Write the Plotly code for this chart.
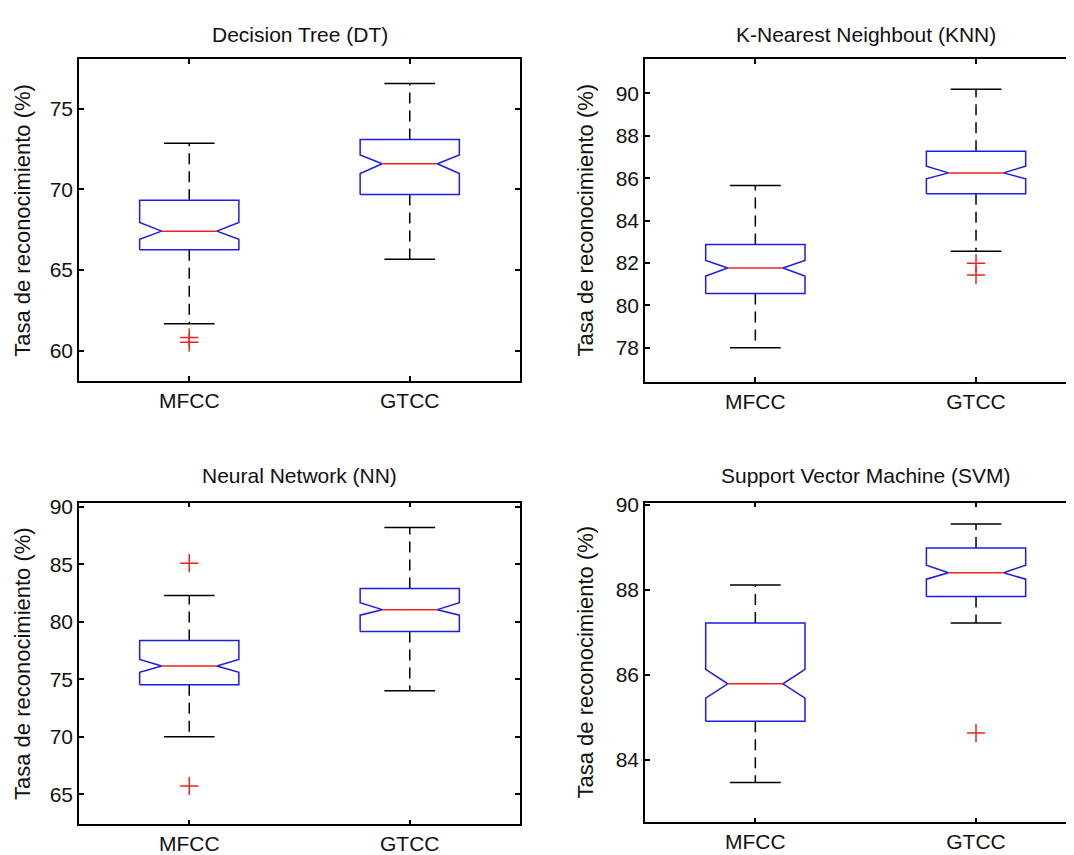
import plotly.graph_objects as go

# ---------------- data ----------------
categories = ["MFCC", "GTCC"]
titles = ["Decision Tree (DT)", "K-Nearest Neighbout (KNN)",
          "Neural Network (NN)", "Support Vector Machine (SVM)"]
y_label = "Tasa de reconocimiento (%)"

# Decision Tree
dt_lower = [61.67, 65.67]
dt_q1 = [66.26, 69.69]
dt_notch_lo = [66.90, 70.98]
dt_median = [67.41, 71.59]
dt_notch_hi = [67.95, 72.14]
dt_q3 = [69.33, 73.10]
dt_upper = [72.86, 76.57]
dt_outliers = [[60.81, 60.51], []]

# K-Nearest Neighbour
knn_lower = [78.00, 82.55]
knn_q1 = [80.56, 85.27]
knn_notch_lo = [81.38, 85.97]
knn_median = [81.76, 86.25]
knn_notch_hi = [82.12, 86.57]
knn_q3 = [82.87, 87.27]
knn_upper = [85.66, 90.20]
knn_outliers = [[], [81.99, 81.43]]

# Neural Network
nn_lower = [70.00, 74.00]
nn_q1 = [74.51, 79.14]
nn_notch_lo = [75.60, 80.57]
nn_median = [76.14, 81.05]
nn_notch_hi = [76.71, 81.65]
nn_q3 = [78.37, 82.90]
nn_upper = [82.29, 88.20]
nn_outliers = [[85.09, 65.71], []]

# Support Vector Machine
svm_lower = [83.47, 87.22]
svm_q1 = [84.91, 87.84]
svm_notch_lo = [85.45, 88.25]
svm_median = [85.79, 88.40]
svm_notch_hi = [86.13, 88.58]
svm_q3 = [87.22, 88.98]
svm_upper = [88.11, 89.55]
svm_outliers = [[], [84.63]]

dt_ticks = [60, 65, 70, 75]
knn_ticks = [78, 80, 82, 84, 86, 88, 90]
nn_ticks = [65, 70, 75, 80, 85, 90]
svm_ticks = [84, 86, 88, 90]

# ---------------- styling ----------------
PAGE_W, PAGE_H = 1074, 855
OFF = 8                      # default body margin of the html page
W, H = PAGE_W - OFF, PAGE_H - OFF
FONT = "Liberation Sans, Arial, Helvetica, sans-serif"
BOX_BLUE = "#1c1ce6"
MED_RED = "#ee2222"
BLACK = "#000000"
BOX_HALF = 0.225      # half box width (x units)
NOTCH_HALF = 0.125    # half width at the notch waist
CAP_HALF = 0.115      # half whisker-cap width


def fx(px):
    return (px - OFF) / W


def fy(py):
    return 1 - (py - OFF) / H


panels = [
    dict(lower=dt_lower, q1=dt_q1, nlo=dt_notch_lo, med=dt_median, nhi=dt_notch_hi,
         q3=dt_q3, upper=dt_upper, out=dt_outliers, yr=[58.1, 78.06], ticks=dt_ticks,
         px=(79, 520), py=(50, 376), xr=[0.5, 2.5], mirror_y=True),
    dict(lower=knn_lower, q1=knn_q1, nlo=knn_notch_lo, med=knn_median, nhi=knn_notch_hi,
         q3=knn_q3, upper=knn_upper, out=knn_outliers, yr=[76.4, 91.6], ticks=knn_ticks,
         px=(645, 1074), py=(50, 376.5), xr=[0.5, 2.444], mirror_y=False),
    dict(lower=nn_lower, q1=nn_q1, nlo=nn_notch_lo, med=nn_median, nhi=nn_notch_hi,
         q3=nn_q3, upper=nn_upper, out=nn_outliers, yr=[62.37, 90.36], ticks=nn_ticks,
         px=(79, 520), py=(499, 825), xr=[0.5, 2.5], mirror_y=True),
    dict(lower=svm_lower, q1=svm_q1, nlo=svm_notch_lo, med=svm_median, nhi=svm_notch_hi,
         q3=svm_q3, upper=svm_upper, out=svm_outliers, yr=[82.53, 90.05], ticks=svm_ticks,
         px=(645, 1074), py=(499, 823), xr=[0.5, 2.444], mirror_y=False),
]
title_centers = [(299.5, 25), (865.5, 25), (299.5, 472), (865.5, 472)]
ylabel_x = [22.5, 586, 22.5, 586]

fig = go.Figure()
annotations = []

for i, p in enumerate(panels):
    n = "" if i == 0 else str(i + 1)
    xa, ya = "x" + n, "y" + n
    box_x, box_y = [], []
    med_x, med_y = [], []
    wh_x, wh_y = [], []
    cap_x, cap_y = [], []
    out_x, out_y = [], []
    for j, cat in enumerate(categories):
        c = j + 1
        q1, q3 = p["q1"][j], p["q3"][j]
        nlo, nhi, md = p["nlo"][j], p["nhi"][j], p["med"][j]
        box_x += [c - BOX_HALF, c - BOX_HALF, c - NOTCH_HALF, c - BOX_HALF, c - BOX_HALF,
                  c + BOX_HALF, c + BOX_HALF, c + NOTCH_HALF, c + BOX_HALF, c + BOX_HALF,
                  c - BOX_HALF, None]
        box_y += [q1, nlo, md, nhi, q3, q3, nhi, md, nlo, q1, q1, None]
        med_x += [c - NOTCH_HALF, c + NOTCH_HALF, None]
        med_y += [md, md, None]
        wh_x += [c, c, None, c, c, None]
        wh_y += [q3, p["upper"][j], None, q1, p["lower"][j], None]
        cap_x += [c - CAP_HALF, c + CAP_HALF, None, c - CAP_HALF, c + CAP_HALF, None]
        cap_y += [p["upper"][j], p["upper"][j], None, p["lower"][j], p["lower"][j], None]
        for v in p["out"][j]:
            out_x.append(c)
            out_y.append(v)

    fig.add_trace(go.Scatter(x=wh_x, y=wh_y, mode="lines", xaxis=xa, yaxis=ya,
                             line=dict(color=BLACK, width=1.5, dash="11px,7px"),
                             showlegend=False, hoverinfo="skip"))
    fig.add_trace(go.Scatter(x=cap_x, y=cap_y, mode="lines", xaxis=xa, yaxis=ya,
                             line=dict(color=BLACK, width=1.5),
                             showlegend=False, hoverinfo="skip"))
    fig.add_trace(go.Scatter(x=box_x, y=box_y, mode="lines", xaxis=xa, yaxis=ya,
                             line=dict(color=BOX_BLUE, width=1.5),
                             showlegend=False, hoverinfo="skip"))
    fig.add_trace(go.Scatter(x=med_x, y=med_y, mode="lines", xaxis=xa, yaxis=ya,
                             line=dict(color=MED_RED, width=1.5),
                             showlegend=False, hoverinfo="skip"))
    if out_x:
        fig.add_trace(go.Scatter(x=out_x, y=out_y, mode="markers", xaxis=xa, yaxis=ya,
                                 marker=dict(symbol="cross-thin", size=13,
                                             line=dict(color=MED_RED, width=1.5)),
                                 showlegend=False, hoverinfo="skip"))

    x0, x1 = p["px"]
    y0, y1 = p["py"]
    axis_common = dict(showgrid=False, zeroline=False, showline=True,
                       linecolor=BLACK, linewidth=1.5, ticks="inside", ticklen=5,
                       tickwidth=1.5, tickcolor=BLACK,
                       tickfont=dict(family=FONT, size=21, color="#111111"))
    fig.update_layout(**{
        ("xaxis" + n): dict(domain=[fx(x0), min(fx(x1), 1.0)], range=p["xr"], anchor=ya,
                            tickmode="array", tickvals=[1, 2], ticktext=categories,
                            mirror="ticks", **axis_common),
        ("yaxis" + n): dict(domain=[fy(y1), fy(y0)], range=p["yr"], anchor=xa,
                            tickmode="array", tickvals=p["ticks"],
                            ticktext=[str(t) for t in p["ticks"]],
                            mirror="ticks" if p["mirror_y"] else False, **axis_common),
    })
    tx, ty = title_centers[i]
    annotations.append(dict(text=titles[i], x=fx(tx), y=fy(ty), xref="paper", yref="paper",
                            xanchor="center", yanchor="middle", showarrow=False,
                            font=dict(family=FONT, size=21, color="#111111")))
    annotations.append(dict(text=y_label, x=fx(ylabel_x[i]), y=fy((y0 + y1) / 2),
                            xref="paper", yref="paper", xanchor="center", yanchor="middle",
                            textangle=-90, showarrow=False,
                            font=dict(family=FONT, size=22, color="#111111")))

fig.update_layout(width=W, height=H, margin=dict(l=0, r=0, t=0, b=0),
                  paper_bgcolor="white", plot_bgcolor="white",
                  annotations=annotations, showlegend=False)

fig.write_html("out.html")
